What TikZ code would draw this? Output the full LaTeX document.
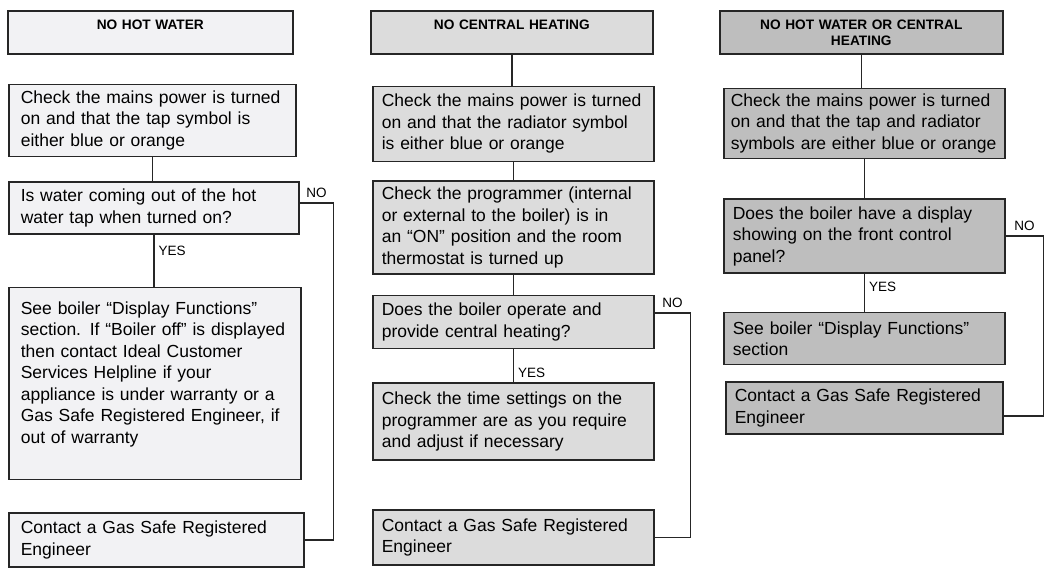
\documentclass[tikz,border=0pt]{standalone}
\usepackage{fontspec}
\setmainfont{Liberation Sans}
\usepackage{tikz}
\usetikzlibrary{positioning}
\definecolor{edge}{HTML}{262626}
\definecolor{waterfill}{HTML}{F2F2F4}
\definecolor{heatfill}{HTML}{DCDCDC}
\definecolor{bothfill}{HTML}{BEBEBE}
\tikzstyle{box}=[rectangle,draw=edge,line width=1.6pt,inner xsep=9pt,inner ysep=4pt,align=left,anchor=north west,font=\fontsize{17.5}{21.5}\selectfont]
\tikzstyle{water}=[box,fill=waterfill,inner xsep=12pt]
\tikzstyle{heating}=[box,fill=heatfill]
\tikzstyle{both}=[box,fill=bothfill]
\tikzstyle{head}=[align=center,inner xsep=9pt,inner ysep=0pt,text height=19pt,text depth=24pt,font=\fontsize{13.7}{16}\selectfont\bfseries]
\tikzstyle{link}=[draw=edge,line width=1.5pt]
\tikzstyle{answer}=[inner sep=2pt,font=\fontsize{13.5}{16}\selectfont]

\begin{document}
\begin{tikzpicture}[x=1pt,y=-1pt]
\useasboundingbox (0,0) rectangle (1044,575);

\node (t1) [water,head,text width=267pt] at (7,10) {NO HOT WATER} ;
\node (a1) [water,text width=263pt,minimum height=72pt,below right=29pt and 1pt of t1.south west] {Check the mains power is turned\\on and that the tap symbol is\\either blue or orange} ;
\node (a2) [water,text width=266pt,minimum height=52pt,below right=24pt and 0pt of a1.south west] {Is water coming out of the hot\\water tap when turned on?} ;
\node (a3) [water,text width=268pt,text height=22.5pt,text depth=161.5pt,below right=52pt and 0pt of a2.south west] {See boiler “Display Functions”\\section.  If “Boiler off” is displayed\\then contact Ideal Customer\\Services Helpline if your\\appliance is under warranty or a\\Gas Safe Registered Engineer, if\\out of warranty} ;
\node (a4) [water,text width=271pt,minimum height=54pt,below right=32pt and 0pt of a3.south west] {Contact a Gas Safe Registered\\Engineer} ;
\draw [link] (a1.south) -- (a1.south |- a2.north) ;
\draw [link] (a2.south) -- node (yes1) [answer,right=2pt,pos=0.3] {YES} (a2.south |- a3.north) ;
\draw [link] ([yshift=5pt]a2.east) -- node (no1) [answer,above=3pt] {NO} ++(34pt,0) |- (a4.east) ;

\node (t2) [heating,head,text width=264pt] at (370,10) {NO CENTRAL HEATING} ;
\node (b1) [heating,text width=263pt,minimum height=75pt,below right=31pt and 2pt of t2.south west] {Check the mains power is turned\\on and that the radiator symbol\\is either blue or orange} ;
\node (b2) [heating,text width=263pt,minimum height=93pt,below right=18pt and 0pt of b1.south west] {Check the programmer (internal\\or external to the boiler) is in\\an “ON” position and the room\\thermostat is turned up} ;
\node (b3) [heating,text width=263pt,minimum height=53pt,below right=20pt and 0pt of b2.south west] {Does the boiler operate and\\provide central heating?} ;
\node (b4) [heating,text width=263pt,minimum height=77pt,below right=33pt and 0pt of b3.south west] {Check the time settings on the\\programmer are as you require\\and adjust if necessary} ;
\node (b5) [heating,text width=263pt,minimum height=55pt,below right=48pt and 0pt of b4.south west] {Contact a Gas Safe Registered\\Engineer} ;
\draw [link] (t2.south) -- (t2.south |- b1.north) ;
\draw [link] (b1.south) -- (b1.south |- b2.north) ;
\draw [link] (b2.south) -- (b2.south |- b3.north) ;
\draw [link] (b3.south) -- node (yes2) [answer,right=2pt,pos=0.7] {YES} (b3.south |- b4.north) ;
\draw [link] ([yshift=9pt]b3.east) -- node (no2) [answer,above=3pt] {NO} ++(36pt,0) |- (b5.east) ;

\node (t3) [both,head,text width=265pt] at (719,10) {NO HOT WATER OR CENTRAL\\HEATING} ;
\node (c1) [both,inner xsep=7pt,text width=267pt,minimum height=70pt,below right=33pt and 4pt of t3.south west] {Check the mains power is turned\\on and that the tap and radiator\\symbols are either blue or orange} ;
\node (c2) [both,text width=263pt,minimum height=74pt,below right=39pt and 0pt of c1.south west] {Does the boiler have a display\\showing on the front control\\panel?} ;
\node (c3) [both,text width=263pt,minimum height=52pt,below right=38pt and 0pt of c2.south west] {See boiler “Display Functions”\\section} ;
\node (c4) [both,text width=259pt,minimum height=52pt,below right=16pt and 2pt of c3.south west] {Contact a Gas Safe Registered\\Engineer} ;
\draw [link] (t3.south) -- (t3.south |- c1.north) ;
\draw [link] (c1.south) -- (c1.south |- c2.north) ;
\draw [link] (c2.south) -- node (yes3) [answer,right=2pt,pos=0.35] {YES} (c2.south |- c3.north) ;
\draw [link] (c2.east) -- node (no3) [answer,above=3pt] {NO} ++(38pt,0) |- ([yshift=-8pt]c4.east) ;

\end{tikzpicture}
\end{document}
